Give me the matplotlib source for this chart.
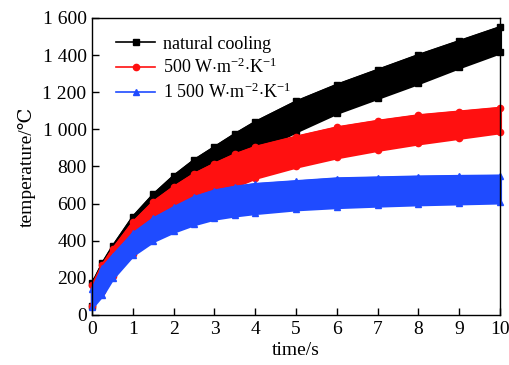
import matplotlib
matplotlib.use("Agg")
import matplotlib.pyplot as plt
import numpy as np

t = [0, 0.25, 0.5, 1, 1.5, 2, 2.5, 3, 3.5, 4, 5, 6, 7, 8, 9, 10]

nat_high = [170, 280, 370, 530, 650, 750, 835, 905, 975, 1040, 1150, 1240, 1320, 1400, 1475, 1550]
nat_low = [50, 150, 230, 370, 470, 560, 650, 730, 810, 880, 990, 1090, 1170, 1250, 1335, 1415]

r500_high = [160, 270, 355, 500, 610, 690, 760, 815, 865, 905, 960, 1010, 1045, 1075, 1095, 1115]
r500_low = [50, 130, 210, 330, 420, 500, 575, 640, 695, 740, 800, 850, 890, 925, 955, 985]

r1500_high = [140, 255, 320, 440, 520, 580, 635, 670, 690, 705, 720, 735, 740, 745, 748, 750]
r1500_low = [45, 110, 200, 325, 400, 450, 490, 520, 537, 550, 570, 582, 590, 597, 602, 607]

labels = ["natural cooling",
          r"500 W$\cdot$m$^{-2}$$\cdot$K$^{-1}$",
          r"1 500 W$\cdot$m$^{-2}$$\cdot$K$^{-1}$"]
yticks = [0, 200, 400, 600, 800, 1000, 1200, 1400, 1600]
ytick_labels = ["0", "200", "400", "600", "800", "1 000", "1 200", "1 400", "1 600"]
xticks = list(range(0, 11))

plt.rcParams['font.family'] = ['Liberation Serif', 'DejaVu Serif']
plt.rcParams['mathtext.fontset'] = 'custom'
plt.rcParams['mathtext.rm'] = 'Liberation Serif'
plt.rcParams['mathtext.it'] = 'Liberation Serif:italic'

fig = plt.figure(figsize=(5.09, 3.65), dpi=100)
ax = fig.add_axes([0.181, 0.137, 0.801, 0.814])

series = [
    (nat_high, nat_low, 'black', 's', labels[0]),
    (r500_high, r500_low, '#ff1010', 'o', labels[1]),
    (r1500_high, r1500_low, '#1f4bff', '^', labels[2]),
]
for i, (hi, lo, c, m, lab) in enumerate(series):
    z = 2 + i * 2
    ax.fill_between(t, lo, hi, color=c, linewidth=2.5, edgecolor=c, clip_on=False, zorder=z)
    ax.plot(t, hi, color=c, marker=m, ms=4.5, lw=1.2, label=lab, clip_on=False, zorder=z + 1)
    ax.plot(t, lo, color=c, marker=m, ms=4.5, lw=1.2, clip_on=False, zorder=z + 1)

ax.set_xlim(0, 10)
ax.set_ylim(0, 1600)
ax.set_xticks(xticks)
ax.set_yticks(yticks)
ax.set_yticklabels(ytick_labels)
ax.tick_params(direction='in', length=5, width=1, labelsize=14, top=False, right=False)
ax.tick_params(axis='x', pad=4)
ax.tick_params(axis='y', pad=4)
for s in ax.spines.values():
    s.set_linewidth(1)
    s.set_zorder(10)
ax.set_xlabel("time/s", fontsize=14, labelpad=3)
ax.set_ylabel("temperature/℃", fontsize=14, labelpad=5)

leg = ax.legend(loc='upper left', bbox_to_anchor=(0.04, 0.965), frameon=False,
                fontsize=13, handlelength=2.2, handletextpad=0.4, labelspacing=0.3,
                borderaxespad=0)

fig.savefig("out.png", dpi=100)
